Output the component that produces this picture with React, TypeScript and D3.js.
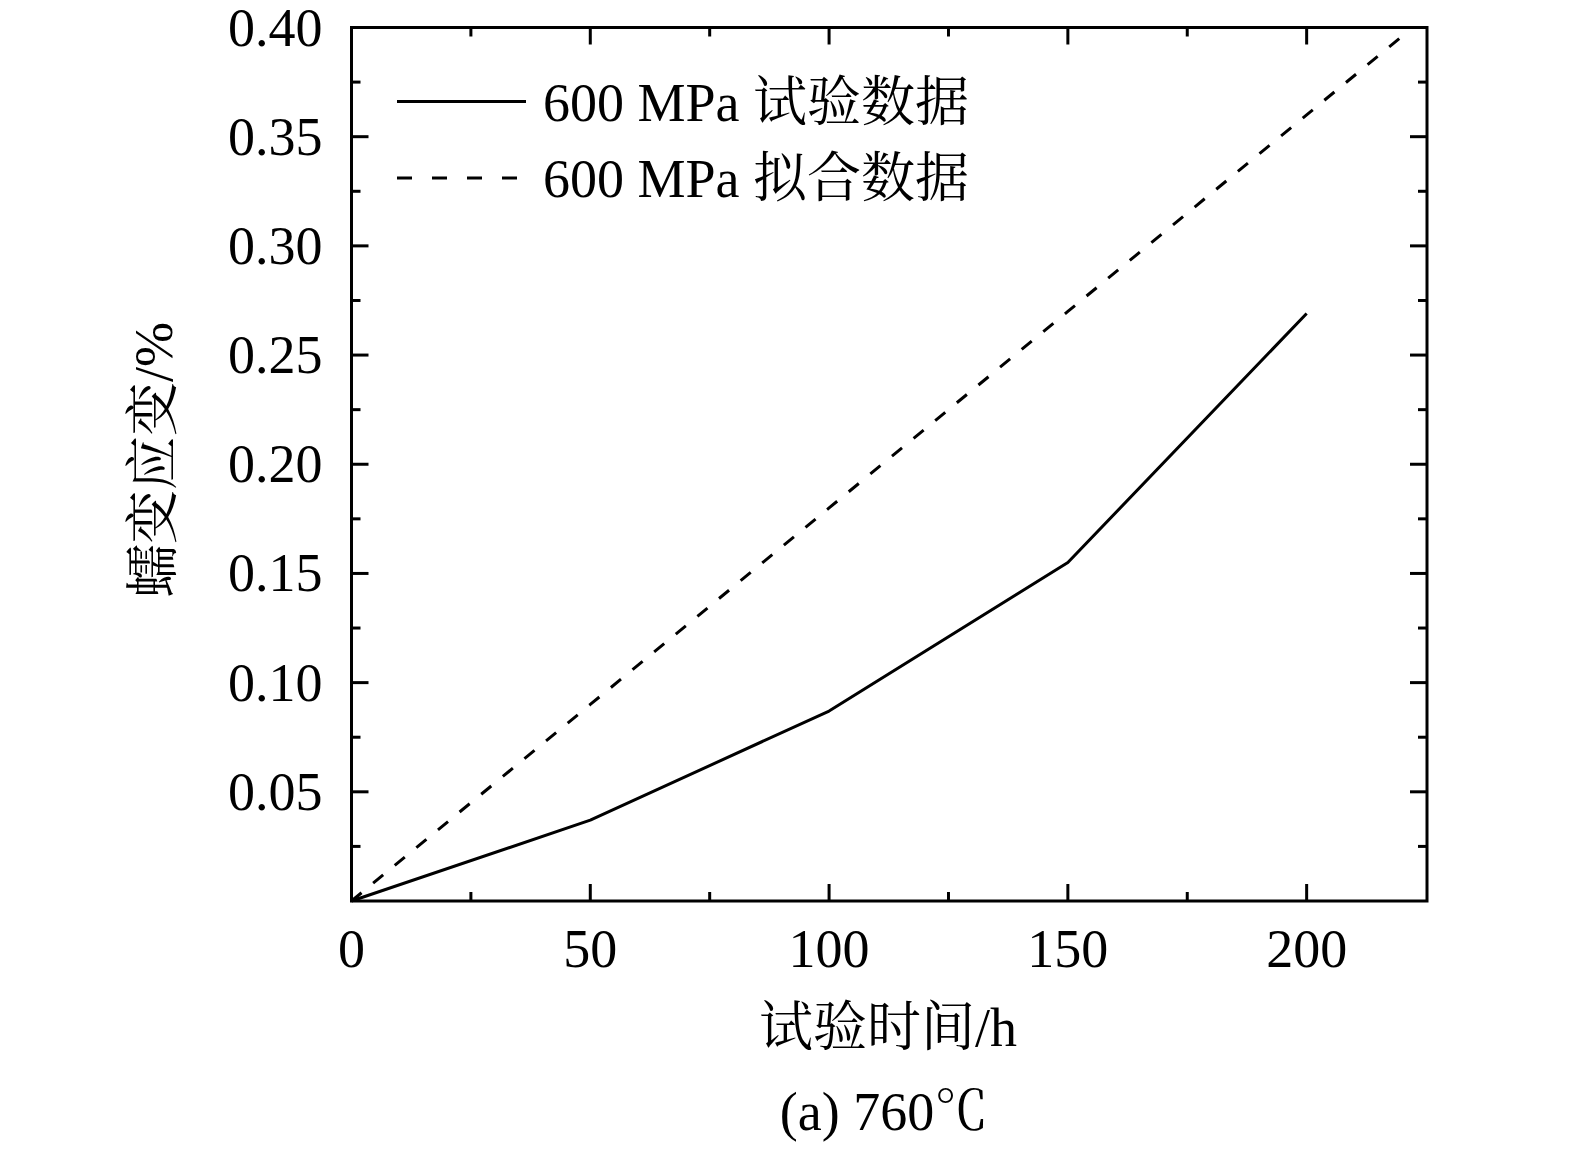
import React, { useEffect, useRef } from 'react';
import * as d3 from 'd3';

// 600 MPa test data (h, %)
const testTime = [0, 50, 100, 150, 200];
const testStrain = [0, 0.037, 0.087, 0.155, 0.269];

// 600 MPa fitted data
const fitTime = [0, 50, 100, 150, 200, 220];
const fitStrain = [0, 0.09, 0.18, 0.27, 0.36, 0.396];

const xTicks = [0, 50, 100, 150, 200];
const yTicks = [0.05, 0.1, 0.15, 0.2, 0.25, 0.3, 0.35, 0.4];

const legendLabels = ['600 MPa 试验数据', '600 MPa 拟合数据'];
const xTitle = '试验时间/h';
const yTitle = '蠕变应变/%';
const caption = '(a) 760℃';

const FONT = '"Liberation Serif", "Times New Roman", "Noto Serif CJK SC", "Noto Sans CJK SC", serif';
const FS = 54;

export default function App() {
  const svgRef = useRef<SVGSVGElement>(null);

  useEffect(() => {
    if (!svgRef.current) return;
    document.body.style.margin = '0';
    const svg = d3.select(svgRef.current);
    svg.selectAll('*').remove();

    const left = 351.5;
    const right = 1427;
    const top = 27.5;
    const bottom = 901;

    const x = d3.scaleLinear().domain([0, 225.2]).range([left, right]);
    const y = d3.scaleLinear().domain([0, 0.4]).range([bottom, top]);

    const g = svg.append('g').attr('font-family', FONT);

    // minor ticks
    const xMinor = d3.range(25, 225, 50);
    const yMinor = d3.range(0.025, 0.4, 0.05);

    const tick = (x1: number, y1: number, x2: number, y2: number) =>
      g.append('line').attr('x1', x1).attr('y1', y1).attr('x2', x2).attr('y2', y2)
        .attr('stroke', '#000').attr('stroke-width', 3);

    xTicks.forEach((t) => {
      tick(x(t), bottom, x(t), bottom - 17);
      tick(x(t), top, x(t), top + 17);
    });
    xMinor.forEach((t) => {
      tick(x(t), bottom, x(t), bottom - 9);
      tick(x(t), top, x(t), top + 9);
    });
    yTicks.forEach((t) => {
      tick(left, y(t), left + 17, y(t));
      tick(right, y(t), right - 17, y(t));
    });
    yMinor.forEach((t) => {
      tick(left, y(t), left + 9, y(t));
      tick(right, y(t), right - 9, y(t));
    });

    // frame
    g.append('rect')
      .attr('x', left).attr('y', top)
      .attr('width', right - left).attr('height', bottom - top)
      .attr('fill', 'none').attr('stroke', '#000').attr('stroke-width', 3);

    // tick labels
    g.selectAll('.xl').data(xTicks).enter().append('text')
      .attr('x', (d) => x(d)).attr('y', bottom + 66)
      .attr('text-anchor', 'middle').attr('font-size', FS)
      .text((d) => String(d));

    g.selectAll('.yl').data(yTicks).enter().append('text')
      .attr('x', left - 29).attr('y', (d) => y(d) + 18)
      .attr('text-anchor', 'end').attr('font-size', FS)
      .text((d) => d.toFixed(2));

    // lines
    const line = d3.line<[number, number]>().x((d) => x(d[0])).y((d) => y(d[1]));

    g.append('path')
      .datum(fitTime.map((t, i) => [t, fitStrain[i]] as [number, number]))
      .attr('d', line).attr('fill', 'none').attr('stroke', '#000')
      .attr('stroke-width', 3).attr('stroke-dasharray', '13,15');

    g.append('path')
      .datum(testTime.map((t, i) => [t, testStrain[i]] as [number, number]))
      .attr('d', line).attr('fill', 'none').attr('stroke', '#000')
      .attr('stroke-width', 3).attr('stroke-linejoin', 'round');

    // legend
    const legY = [101.5, 178];
    legendLabels.forEach((lab, i) => {
      g.append('line')
        .attr('x1', 397).attr('x2', i === 0 ? 526 : 520)
        .attr('y1', legY[i]).attr('y2', legY[i])
        .attr('stroke', '#000').attr('stroke-width', 3)
        .attr('stroke-dasharray', i === 0 ? null : '15,20');
      g.append('text')
        .attr('x', 543).attr('y', legY[i] + 19)
        .attr('font-size', FS).text(lab);
    });

    // axis titles
    g.append('text')
      .attr('x', 888).attr('y', 1046)
      .attr('text-anchor', 'middle').attr('font-size', FS)
      .text(xTitle);

    g.append('text')
      .attr('transform', `translate(172,460) rotate(-90)`)
      .attr('text-anchor', 'middle').attr('font-size', FS)
      .text(yTitle);

    g.append('text')
      .attr('x', 884).attr('y', 1130)
      .attr('text-anchor', 'middle').attr('font-size', FS)
      .text(caption);
  }, []);

  return (
    <svg
      ref={svgRef}
      width={1575}
      height={1151}
      style={{ display: 'block', background: '#fff' }}
    />
  );
}
